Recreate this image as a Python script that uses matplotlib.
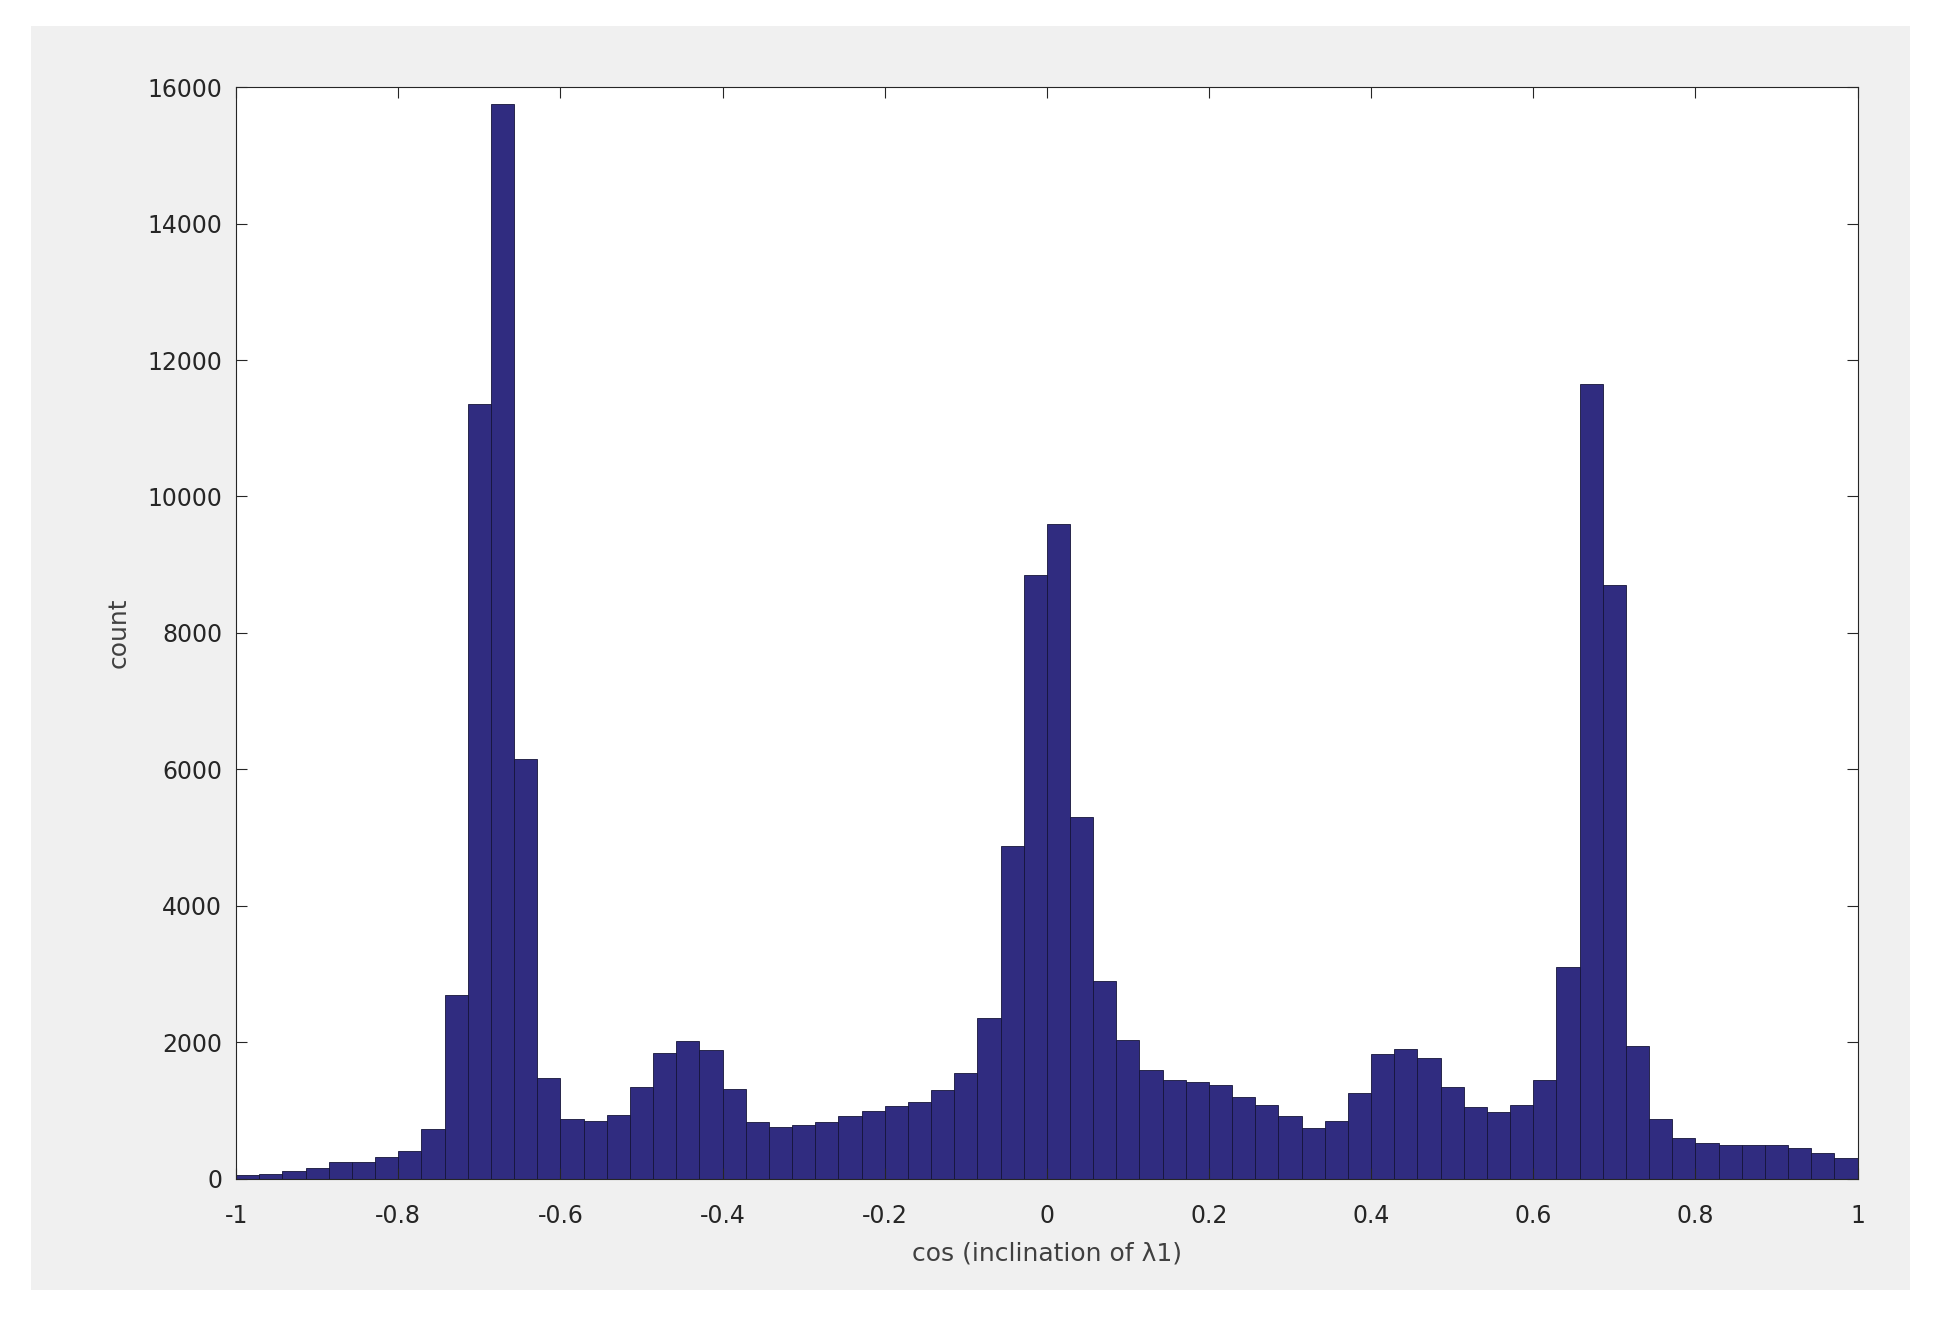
import numpy as np
import matplotlib.pyplot as plt
from matplotlib.patches import Rectangle

# Histogram edges (70 bins on [-1, 1]) and counts
edges = np.linspace(-1, 1, 71)
counts = [50, 70, 120, 160, 250, 250, 320, 400, 730, 2700,
          11350, 15750, 6150, 1480, 870, 850, 930, 1350, 1850, 2020,
          1880, 1320, 830, 760, 790, 830, 920, 1000, 1070, 1120,
          1300, 1550, 2350, 4870, 8850, 9600, 5300, 2900, 2030, 1600,
          1450, 1420, 1380, 1200, 1080, 920, 750, 850, 1250, 1830,
          1900, 1770, 1350, 1050, 980, 1080, 1450, 3100, 11650, 8700,
          1950, 880, 600, 530, 490, 500, 500, 450, 380, 300]

fig = plt.figure(figsize=(19.35, 13.2), dpi=100)
fig.patches.append(Rectangle((0.016, 0.023), 0.971, 0.957, transform=fig.transFigure,
                             facecolor='#f0f0f0', edgecolor='none', zorder=-1))
ax = fig.add_axes([0.122, 0.107, 0.843 - 0.005, 0.827])
ax.bar(edges[:-1], counts, width=np.diff(edges), align='edge',
       color='#302c80', edgecolor='#15143a', linewidth=0.6)
ax.set_xlim(-1, 1)
ax.set_ylim(0, 16000)
ax.set_xticks(np.arange(-1, 1.01, 0.2))
ax.set_xticklabels(['-1', '-0.8', '-0.6', '-0.4', '-0.2', '0', '0.2', '0.4', '0.6', '0.8', '1'])
ax.set_yticks(np.arange(0, 16001, 2000))
ax.tick_params(direction='in', top=True, right=True, labelsize=17, length=8, colors='#262626')
ax.tick_params(axis='x', pad=18)
ax.tick_params(axis='y', pad=10)
for s in ax.spines.values():
    s.set_color('#262626')
ax.set_xlabel('cos (inclination of λ1)', fontsize=18, color='#404040', labelpad=10)
ax.set_ylabel('count', fontsize=18, color='#404040', labelpad=12)
fig.savefig('out.png', dpi=100)
